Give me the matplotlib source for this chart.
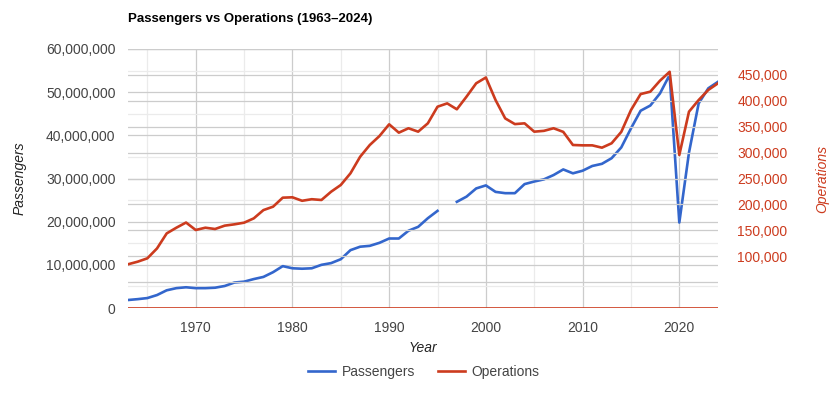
import numpy as np
import matplotlib
matplotlib.use("Agg")
import matplotlib.pyplot as plt
from matplotlib.ticker import FuncFormatter, MultipleLocator

plt.rcParams['font.family'] = ['Liberation Sans', 'DejaVu Sans']

# %%
# Data
years = list(range(1963, 2025))

passengers = [
    1.85e6, 2.05e6, 2.3e6, 3.0e6, 4.1e6, 4.6e6, 4.8e6,           # 1963-1969
    4.6e6, 4.6e6, 4.7e6, 5.1e6, 5.9e6, 6.1e6, 6.7e6, 7.2e6, 8.3e6, 9.7e6,  # 1970-1979
    9.2e6, 9.1e6, 9.2e6, 10.0e6, 10.4e6, 11.3e6, 13.4e6, 14.2e6, 14.4e6, 15.1e6,  # 1980s
    16.1e6, 16.1e6, 17.9e6, 18.8e6, 20.8e6, 22.5e6, None, 24.6e6, 25.8e6, 27.7e6,  # 1990s
    28.4e6, 26.9e6, 26.6e6, 26.6e6, 28.7e6, 29.3e6, 29.8e6, 30.8e6, 32.1e6, 31.2e6,  # 2000s
    31.8e6, 32.9e6, 33.4e6, 34.7e6, 37.2e6, 41.6e6, 45.7e6, 46.9e6, 49.7e6, 54.0e6,  # 2010s
    19.8e6, 36.0e6, 47.4e6, 50.9e6, 52.4e6,                       # 2020-2024
]

operations = [
    84400, 89400, 95900, 115000, 144000, 155000, 165000,
    150600, 155000, 152500, 159000, 161500, 164700, 173000, 189000, 195600, 213000,
    213700, 207000, 210000, 208500, 224500, 237500, 260000, 292000, 314700, 332000,
    354600, 338500, 347000, 340400, 356500, 388600, 395000, 383600, 408000, 433800,
    445000, 401500, 366000, 355000, 356500, 340400, 342000, 347000, 340000, 314700,
    314000, 314000, 309500, 318000, 340000, 382000, 413000, 417600, 438800, 456000,
    295400, 379000, 401500, 421000, 433800,
]

blue = '#3366cc'
red = '#cc3b1e'
text_col = '#444444'

pax = np.array([np.nan if v is None else v for v in passengers], dtype=float)

# %%
fig = plt.figure(figsize=(8.4, 3.94), dpi=100)
ax = fig.add_axes([128 / 840, 1 - 308 / 394, 590 / 840, 259 / 394])
ax2 = ax.twinx()

# grid: vertical lines
for yr in range(1965, 2025, 5):
    ax.axvline(yr, color='#cccccc' if yr % 10 == 0 else '#ebebeb', lw=0.9, zorder=0)
# horizontal grid for both axes
for v in range(5_000_000, 60_000_001, 5_000_000):
    ax.axhline(v, color='#cccccc' if v % 10_000_000 == 0 else '#ebebeb', lw=0.9, zorder=0)
for v in range(50_000, 500_001, 50_000):
    ax2.axhline(v, color='#cccccc', lw=0.9, zorder=0)

ax.plot(years, pax, color=blue, lw=1.9, zorder=3, label='Passengers')
ax2.plot(years, operations, color=red, lw=1.9, zorder=3, label='Operations')
ax2.axhline(0, color=red, lw=1.2, zorder=4)

ax.set_xlim(1963, 2024)
ax.set_ylim(0, 60_000_000)
ax2.set_ylim(0, 500_000)

ax.xaxis.set_major_locator(MultipleLocator(10))
ax.yaxis.set_major_locator(MultipleLocator(10_000_000))
ax.yaxis.set_major_formatter(FuncFormatter(lambda v, p: f'{int(v):,}'))
ax2.set_yticks(range(100_000, 450_001, 50_000))
ax2.yaxis.set_major_formatter(FuncFormatter(lambda v, p: f'{int(v):,}'))

ax.tick_params(axis='both', length=0, labelsize=10, colors=text_col, pad=9)
ax.tick_params(axis='x', pad=9)
ax2.tick_params(axis='y', length=0, labelsize=10, colors=red, pad=14)

for a in (ax, ax2):
    for s in a.spines.values():
        s.set_visible(False)

ax.set_xlabel('Year', fontsize=10, style='italic', color='#222222', labelpad=5)
ax.set_ylabel('Passengers', fontsize=10, style='italic', color='#222222', labelpad=14)
ax2.set_ylabel('Operations', fontsize=10, style='italic', color=red, labelpad=20, rotation=90)

fig.text(128 / 840, 1 - 19 / 394, 'Passengers vs Operations (1963\u20132024)',
         fontsize=9.5, fontweight='bold', ha='left', va='center', color='#000000')

h1, l1 = ax.get_legend_handles_labels()
h2, l2 = ax2.get_legend_handles_labels()
fig.legend(h1 + h2, l1 + l2, loc='center', bbox_to_anchor=(424 / 840, 1 - 372 / 394),
           ncol=2, frameon=False, fontsize=10, handlelength=1.9, columnspacing=1.7,
           handletextpad=0.5, labelcolor=text_col)

fig.savefig('out.png', dpi=100)
